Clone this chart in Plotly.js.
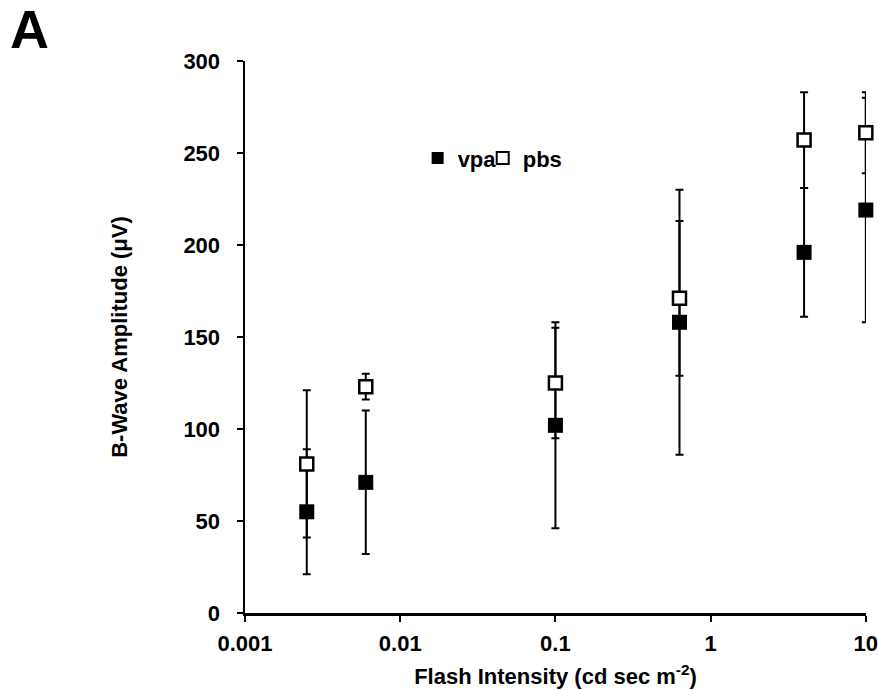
<!DOCTYPE html>
<html>
<head>
<meta charset="utf-8">
<script src="https://cdn.plot.ly/plotly-3.0.1.min.js"></script>
<style>html,body{margin:0;padding:0;background:#fff;}#chart{width:878px;height:690px;}</style>
</head>
<body>
<div id="chart"></div>
<script>
var intensity = [0.0025, 0.006, 0.1, 0.63, 4, 10];
var vpa = [55, 71, 102, 158, 196, 219];
var vpaErr = [34, 39, 56, 72, 35, 61];
var pbs = [81, 123, 125, 171, 257, 261];
var pbsErr = [40, 7, 30, 42, 26, 22];
var xTickVals = [0.001, 0.01, 0.1, 1, 10];
var xTickText = ['0.001', '0.01', '0.1', '1', '10'];

var F = 'Liberation Sans, Arial, Helvetica, sans-serif';

var traces = [
  {
    x: intensity, y: vpa, name: 'vpa', type: 'scatter', mode: 'markers', legend: 'legend',
    marker: {symbol: 'square', size: 15, color: '#000', line: {color: '#000', width: 0}},
    error_y: {type: 'data', array: vpaErr, visible: true, color: '#000', thickness: 2, width: 4},
    cliponaxis: false
  },
  {
    x: intensity, y: pbs, name: 'pbs', type: 'scatter', mode: 'markers', legend: 'legend2',
    marker: {symbol: 'square', size: 13, color: '#fff', line: {color: '#000', width: 2.5}},
    error_y: {type: 'data', array: pbsErr, visible: true, color: '#000', thickness: 2, width: 4},
    cliponaxis: false
  }
];

var legendBase = {
  orientation: 'h', xanchor: 'left', y: 0.824, yanchor: 'middle',
  font: {family: F, size: 22, weight: 'bold', color: '#000'},
  bgcolor: 'rgba(0,0,0,0)', itemsizing: 'constant', itemwidth: 30
};

var layout = {
  width: 878, height: 690,
  margin: {l: 245, r: 12, t: 61, b: 77},
  paper_bgcolor: '#fff', plot_bgcolor: '#fff',
  font: {family: F, color: '#000', size: 22, weight: 'bold'},
  showlegend: true,
  legend: Object.assign({}, legendBase, {x: 0.278}),
  legend2: Object.assign({}, legendBase, {x: 0.3828}),
  xaxis: {
    type: 'log', range: [-3, 1.001], tickvals: xTickVals, ticktext: xTickText,
    showgrid: false, zeroline: false, showline: true, linecolor: '#000', linewidth: 2.5,
    ticks: 'outside', ticklen: 6, tickwidth: 2, tickcolor: '#000',
    ticklabelstandoff: 3, ticklabeloverflow: 'allow',
    tickfont: {family: F, size: 22, weight: 'bold', color: '#000'},
    title: {text: 'Flash Intensity (cd sec m<sup>-2</sup>)', font: {family: F, size: 22, weight: 'bold', color: '#000'}, standoff: 14},
    automargin: false
  },
  yaxis: {
    range: [0, 300], dtick: 50, tick0: 0,
    showgrid: false, zeroline: false, showline: true, linecolor: '#000', linewidth: 2.5,
    ticks: 'outside', ticklen: 6, tickwidth: 2, tickcolor: '#000',
    ticklabelstandoff: 12,
    tickfont: {family: F, size: 22, weight: 'bold', color: '#000'},
    title: {text: 'B-Wave Amplitude (μV)', font: {family: F, size: 22, weight: 'bold', color: '#000'}, standoff: 50},
    automargin: false
  },
  annotations: [
    {text: 'A', xref: 'paper', yref: 'paper', x: -0.382, y: 1.058, xanchor: 'left', yanchor: 'middle',
     showarrow: false, font: {family: F, size: 54, weight: 'bold', color: '#000'}}
  ]
};

Plotly.newPlot('chart', traces, layout, {staticPlot: true});
</script>
</body>
</html>
